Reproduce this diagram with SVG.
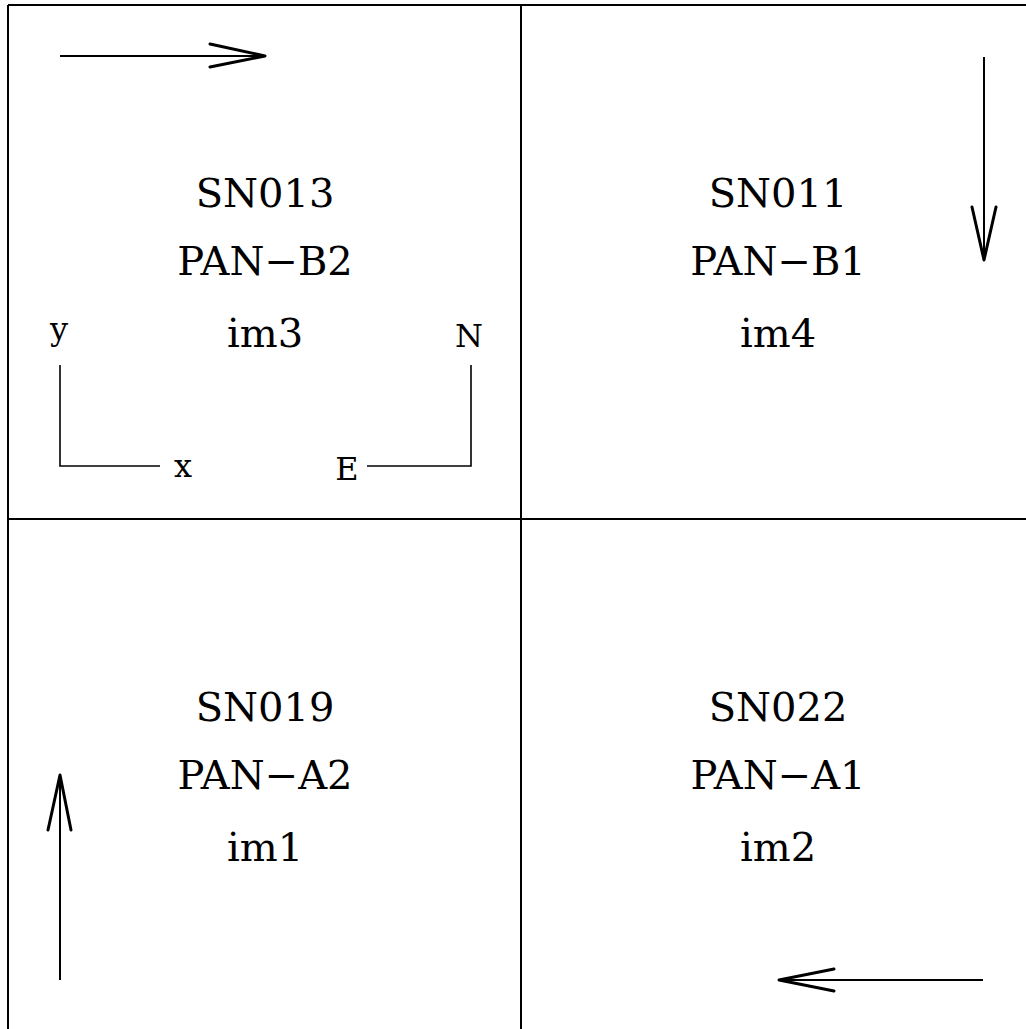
<svg xmlns="http://www.w3.org/2000/svg" width="1026" height="1029" viewBox="0 0 1026 1029">
<style>
.frame{stroke:#000;stroke-width:2;fill:none}
.shaft{stroke:#000;stroke-width:2;fill:none}
.head{stroke:#000;stroke-width:3;fill:none;stroke-linecap:round;stroke-linejoin:round}
.axis{stroke:#000;stroke-width:1.6;fill:none}
.t{font-family:"DejaVu Serif","Liberation Serif",serif;font-size:40px;text-anchor:middle;fill:#000}
.s{font-family:"DejaVu Serif","Liberation Serif",serif;font-size:32px;text-anchor:middle;fill:#000}
</style>
<rect width="1026" height="1029" fill="#fff"/>
<g id="frame">
<line class="frame" x1="8" y1="5" x2="1026" y2="5"/>
<line class="frame" x1="8" y1="5" x2="8" y2="1029"/>
<line class="frame" x1="521" y1="5" x2="521" y2="1029"/>
<line class="frame" x1="8" y1="519" x2="1026" y2="519"/>
</g>
<g id="im3">
<text class="t" x="265" y="207">SN013</text>
<text class="t" x="265" y="275">PAN−B2</text>
<text class="t" x="265" y="347">im3</text>
</g>
<g id="im4">
<text class="t" x="778" y="207">SN011</text>
<text class="t" x="778" y="275">PAN−B1</text>
<text class="t" x="778" y="347">im4</text>
</g>
<g id="im1">
<text class="t" x="265" y="721">SN019</text>
<text class="t" x="265" y="789">PAN−A2</text>
<text class="t" x="265" y="861">im1</text>
</g>
<g id="im2">
<text class="t" x="778" y="721">SN022</text>
<text class="t" x="778" y="789">PAN−A1</text>
<text class="t" x="778" y="861">im2</text>
</g>
<g id="axes">
<polyline class="axis" points="60,365 60,466 160,466"/>
<polyline class="axis" points="471,365 471,466 367,466"/>
<text class="s" x="59" y="340">y</text>
<text class="s" x="183" y="477">x</text>
<text class="s" x="469" y="347">N</text>
<text class="s" x="347" y="480">E</text>
</g>
<g id="connectors">
<line class="shaft" x1="60" y1="56" x2="264" y2="56"/>
<polyline class="head" points="210,44 265,56 210,67"/>
<line class="shaft" x1="984" y1="57" x2="984" y2="259"/>
<polyline class="head" points="972,207 984,260 996,207"/>
<line class="shaft" x1="983" y1="980" x2="780" y2="980"/>
<polyline class="head" points="834,969 779,980 834,991"/>
<line class="shaft" x1="60" y1="980" x2="60" y2="777"/>
<polyline class="head" points="48,830 60,775 71,830"/>
</g>
</svg>
